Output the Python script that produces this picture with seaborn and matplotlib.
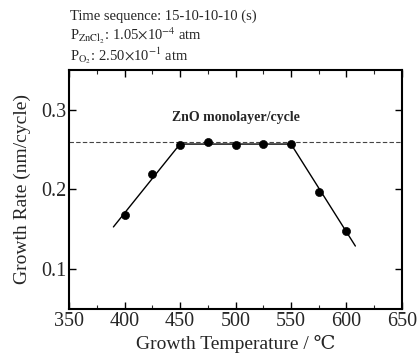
import numpy as np
import pandas as pd
import matplotlib
matplotlib.use("Agg")
import matplotlib.pyplot as plt
import seaborn as sns
from matplotlib.ticker import MultipleLocator

temps = [400, 425, 450, 475, 500, 525, 550, 575, 600]
rates = [0.168, 0.220, 0.256, 0.259, 0.256, 0.257, 0.257, 0.197, 0.148]
fit_x = [390, 450, 550, 608]
fit_y = [0.153, 0.257, 0.257, 0.129]
monolayer = 0.26
xticks = [350, 400, 450, 500, 550, 600, 650]
yticks = [0.1, 0.2, 0.3]

sns.set_style("ticks")
plt.rcParams['font.family'] = ['Liberation Serif', 'DejaVu Serif']
plt.rcParams['mathtext.fontset'] = 'stix'
plt.rcParams['xtick.direction'] = 'in'
plt.rcParams['ytick.direction'] = 'in'

fig = plt.figure(figsize=(4.17, 3.57), dpi=100)
ax = fig.add_axes([0.1655, 0.1345, 0.7985, 0.6695])

df = pd.DataFrame({"T": temps, "R": rates})
fit = pd.DataFrame({"T": fit_x, "R": fit_y})
sns.lineplot(data=fit, x="T", y="R", color="black", lw=1.0, ax=ax, sort=False)
ax.axhline(monolayer, color="#444444", ls=(0, (4, 2)), lw=0.8)
sns.scatterplot(data=df, x="T", y="R", color="black", s=34, edgecolor="black", zorder=5, ax=ax)

ax.set_xlim(350, 650)
ax.set_ylim(0.05, 0.35)
ax.set_xticks(xticks)
ax.set_xticklabels([str(t) for t in xticks])
ax.set_yticks(yticks)
ax.set_yticklabels([f"{t:.1f}" for t in yticks])
ax.xaxis.set_minor_locator(MultipleLocator(25))
ax.tick_params(axis='both', which='major', labelsize=14.5, length=5, width=1.0,
               top=True, right=True, color='black', pad=2)
ax.tick_params(axis='both', which='minor', length=3, width=0.8, top=True, right=True)
for s in ax.spines.values():
    s.set_linewidth(1.5)
    s.set_color('black')

ax.set_xlabel("Growth Temperature / \u2103", fontsize=14, labelpad=3)
ax.set_ylabel("Growth Rate (nm/cycle)", fontsize=14, labelpad=7)

ax.text(500, 0.290, "ZnO monolayer/cycle", ha="center", va="center",
        fontsize=10, fontweight="bold")

fig.text(0.168, 0.955, "Time sequence: 15-10-10-10 (s)", fontsize=10.5, va="center")
fig.text(0.168, 0.900, r"P$_{\mathrm{ZnCl_2}}$: 1.05$\times$10$^{-4}$ atm", fontsize=10.5, va="center")
fig.text(0.168, 0.843, r"P$_{\mathrm{O_2}}$: 2.50$\times$10$^{-1}$ atm", fontsize=10.5, va="center")

fig.savefig("out.png", dpi=100)
